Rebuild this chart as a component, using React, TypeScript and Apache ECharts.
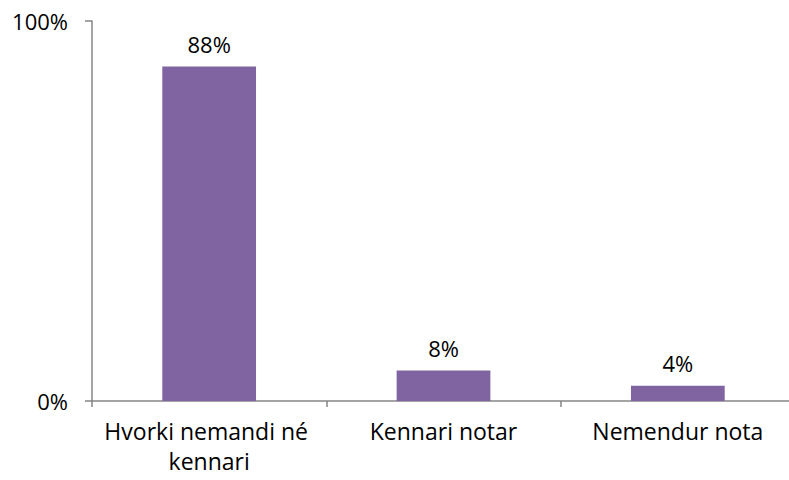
import React, { useEffect, useRef } from "react";
import * as echarts from "echarts";

const categories = ["Hvorki nemandi né kennari", "Kennari notar", "Nemendur nota"];
const values = [88, 8, 4];
const yTicks = [0, 100];

export default function App() {
  const ref = useRef<HTMLDivElement>(null);
  useEffect(() => {
    if (!ref.current) return;
    const chart = echarts.init(ref.current, undefined, { renderer: "svg" });
    const font = "'Open Sans', sans-serif";
    chart.setOption({
      animation: false,
      grid: { left: 92, width: 703, top: 21, height: 380, containLabel: false, outerBoundsMode: "none" },
      xAxis: {
        type: "category",
        data: categories,
        boundaryGap: true,
        axisLine: { lineStyle: { color: "#868686", width: 1.5 } },
        axisTick: { show: true, length: 6, lineStyle: { color: "#868686", width: 1.5 } },
        axisLabel: {
          color: "#000",
          fontFamily: font,
          fontSize: 23,
          margin: 15,
          width: 225,
          overflow: "break",
          lineHeight: 30,
          interval: 0,
        },
      },
      yAxis: {
        type: "value",
        min: yTicks[0],
        max: yTicks[yTicks.length - 1],
        interval: 100,
        splitLine: { show: false },
        axisLine: { show: true, lineStyle: { color: "#868686", width: 1.5 } },
        axisTick: { show: true, length: 7, lineStyle: { color: "#868686", width: 1.5 } },
        axisLabel: {
          color: "#000",
          fontFamily: font,
          fontSize: 22,
          margin: 24,
          formatter: "{value}%",
        },
      },
      series: [
        {
          type: "bar",
          data: values,
          barWidth: "40%",
          itemStyle: { color: "#8064A2" },
          label: {
            show: true,
            position: "top",
            distance: 12,
            color: "#000",
            fontFamily: font,
            fontSize: 22,
            formatter: "{c}%",
          },
        },
      ],
    });
    return () => chart.dispose();
  }, []);
  return <div ref={ref} style={{ width: 789, height: 480, position: "absolute", left: 0, top: 0 }} />;
}
